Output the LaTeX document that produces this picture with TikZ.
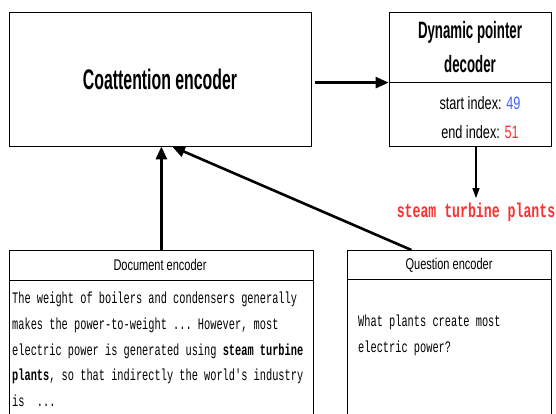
\documentclass[tikz,border=0pt]{standalone}
\usepackage{fontspec}
\setmainfont{Liberation Sans}[FakeStretch=0.56]
\newfontfamily\narrowfont{Liberation Sans}[FakeStretch=0.71]
\setmonofont{Liberation Mono}[FakeStretch=0.645]
\newfontfamily\ansfont{Liberation Mono}[FakeStretch=0.66]
\usetikzlibrary{arrows.meta}
\definecolor{idxblue}{HTML}{3F5FFF}
\definecolor{idxred}{HTML}{FF3030}

\begin{document}
\begin{tikzpicture}[x=1pt,y=-1pt,
    box/.style={draw,line width=0.8pt,inner sep=0pt},
    bigarrow/.style={line width=2.6pt,-{Triangle[length=13pt,width=11pt]}},
    thinarrow/.style={line width=1.2pt,-{Triangle[length=10pt,width=7pt]}},
    header/.style={font=\narrowfont\fontsize{15.5}{18}\selectfont},
    body/.style={font=\ttfamily\fontsize{16}{25.7}\selectfont,align=left,inner sep=0pt}]
      \useasboundingbox (0,0) rectangle (556,414);
      \clip (0,0) rectangle (556,414);

      \node[box,minimum width=302pt,minimum height=134pt,font=\bfseries\fontsize{28.3}{32}\selectfont] (coat) at (160,79) {Coattention encoder};
      \node[box,minimum width=162pt,minimum height=134pt] (dec) at (470,79) {};
      \coordinate (decsplit) at ([yshift=-71pt]dec.north west);
      \draw[line width=0.8pt] (decsplit) -- (decsplit -| dec.east);
      \node[align=center,font=\bfseries\fontsize{23.7}{34}\selectfont] (dectitle) at (470,47) {Dynamic pointer\\decoder};
      \node[align=center,font=\narrowfont\fontsize{17.9}{29}\selectfont] (idx) at (480,117.5) {start index: \textcolor{idxblue}{49}\\end index: \textcolor{idxred}{51}};
      \node[text=idxred,font=\ansfont\bfseries\fontsize{20}{24}\selectfont] (ans) at (476,212) {steam turbine plants};

      \node[box,minimum width=304pt,minimum height=200pt,anchor=north west] (doc) at (9,250) {};
      \coordinate (docsplit) at ([yshift=-30pt]doc.north west);
      \draw[line width=0.8pt] (docsplit) -- (docsplit -| doc.east);
      \node[header] (dochead) at (160,265) {Document encoder};
      \node[body,anchor=north west] (doctext) at (12,292) {The weight of boilers and condensers generally\\makes the power-to-weight ... However, most\\electric power is generated using \textbf{steam turbine}\\\textbf{plants}, so that indirectly the world's industry\\is\ \ ...};

      \node[box,minimum width=204pt,minimum height=200pt,anchor=north west] (que) at (347,250) {};
      \coordinate (quesplit) at ([yshift=-29pt]que.north west);
      \draw[line width=0.8pt] (quesplit) -- (quesplit -| que.east);
      \node[header] (quehead) at (449,265) {Question encoder};
      \node[body,anchor=north west] (quetext) at (358,315) {What plants create most\\electric power?};

      \draw[bigarrow] ([xshift=4pt]coat.east |- decsplit) -- (decsplit);
      \draw[thinarrow] (dec.south -| ans) -- ([yshift=1pt]ans.north);
      \draw[bigarrow] (doc.north) -- (doc.north |- coat.south);
      \draw[bigarrow] ([xshift=-38pt]que.north) -- ([xshift=12pt]coat.south);
\end{tikzpicture}
\end{document}
